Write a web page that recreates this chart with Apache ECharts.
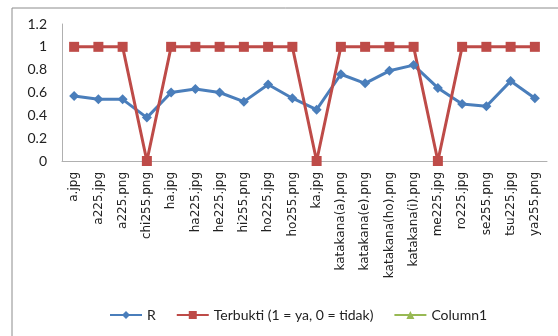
<!DOCTYPE html>
<html>
<head>
<meta charset="utf-8">
<script src="https://cdn.jsdelivr.net/npm/echarts@6/dist/echarts.min.js"></script>
<style>
  html, body { margin: 0; padding: 0; background: #fff; }
  #chart { width: 558px; height: 336px; }
</style>
</head>
<body>
<div id="chart"></div>
<script>
const categories = [
    'a.jpg', 'a225.jpg', 'a225.png', 'chi255.png', 'ha.jpg', 'ha225.jpg', 'he225.jpg',
    'hi255.png', 'ho225.jpg', 'ho255.png', 'ka.jpg', 'katakana(a).png', 'katakana(e).png',
    'katakana(ho).png', 'katakana(i).png', 'me225.jpg', 'ro225.jpg', 'se255.png',
    'tsu225.jpg', 'ya255.png'
];
const rValues = [0.57, 0.54, 0.54, 0.38, 0.6, 0.63, 0.6, 0.52, 0.67, 0.55,
                 0.45, 0.76, 0.68, 0.79, 0.84, 0.64, 0.5, 0.48, 0.7, 0.55];
const terbukti = [1, 1, 1, 0, 1, 1, 1, 1, 1, 1, 0, 1, 1, 1, 1, 0, 1, 1, 1, 1];
const column1 = [];
const yTicks = { min: 0, max: 1.2, step: 0.2 };

const chart = echarts.init(document.getElementById('chart'));
const font = 'Lato, "Open Sans", sans-serif';

chart.setOption({
    animation: false,
    textStyle: { fontFamily: font },
    graphic: [{
        type: 'rect',
        shape: { x: 12, y: 8, width: 560, height: 340 },
        style: { fill: 'none', stroke: '#8c8c8c', lineWidth: 1 }
    }],
    grid: { left: 62, right: 11, top: 24, bottom: 175 },
    legend: {
        bottom: 9,
        left: 104,
        itemWidth: 32,
        itemHeight: 10,
        itemGap: 20,
        textStyle: { fontSize: 14, color: '#222', fontFamily: font },
        data: ['R', 'Terbukti (1 = ya, 0 = tidak)', 'Column1']
    },
    xAxis: {
        type: 'category',
        data: categories,
        axisLine: { lineStyle: { color: '#b0b0b0' } },
        axisTick: { show: false },
        axisLabel: {
            rotate: 90, interval: 0, fontSize: 12, color: '#222', margin: 11,
            fontFamily: '"DejaVu Sans", sans-serif'
        }
    },
    yAxis: {
        type: 'value',
        min: yTicks.min,
        max: yTicks.max,
        interval: yTicks.step,
        axisLine: { show: true, lineStyle: { color: '#b0b0b0' } },
        axisTick: { show: false },
        splitLine: { show: false },
        axisLabel: { fontSize: 14, color: '#222', margin: 15 }
    },
    series: [
        {
            name: 'R',
            type: 'line',
            data: rValues,
            symbol: 'diamond',
            symbolSize: 10,
            lineStyle: { width: 3, color: '#4a7ebb' },
            itemStyle: { color: '#4a7ebb' }
        },
        {
            name: 'Terbukti (1 = ya, 0 = tidak)',
            type: 'line',
            data: terbukti,
            symbol: 'rect',
            symbolSize: 10,
            lineStyle: { width: 3, color: '#be4b48' },
            itemStyle: { color: '#be4b48' }
        },
        {
            name: 'Column1',
            type: 'line',
            data: column1,
            symbol: 'triangle',
            symbolSize: 8,
            lineStyle: { width: 3, color: '#98b954' },
            itemStyle: { color: '#98b954' }
        }
    ]
});
</script>
</body>
</html>
